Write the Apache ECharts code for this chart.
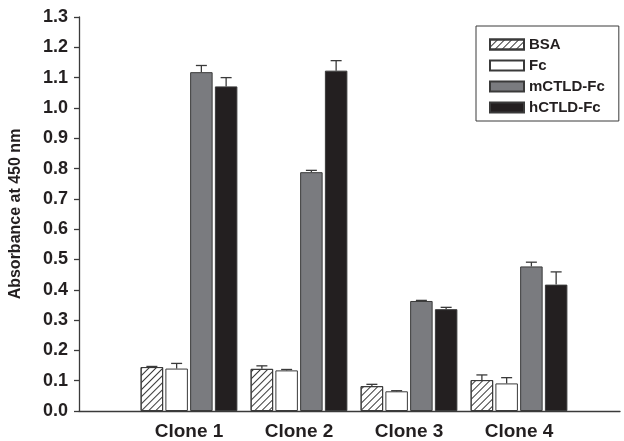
<!DOCTYPE html>
<html>
<head>
<meta charset="utf-8">
<script src="https://cdn.jsdelivr.net/npm/echarts@6/dist/echarts.min.js"></script>
<style>html,body{margin:0;padding:0;background:#fff}#c{width:624px;height:441px}</style>
</head>
<body>
<div id="c"></div>
<script>
const categories = ['Clone 1', 'Clone 2', 'Clone 3', 'Clone 4'];
const seriesNames = ['BSA', 'Fc', 'mCTLD-Fc', 'hCTLD-Fc'];
const bsa = [0.145, 0.139, 0.082, 0.102];
const fc = [0.140, 0.134, 0.065, 0.091];
const mctld = [1.118, 0.788, 0.363, 0.477];
const hctld = [1.071, 1.123, 0.336, 0.417];
const bsaErr = [0.002, 0.010, 0.006, 0.017];
const fcErr = [0.017, 0.003, 0.002, 0.019];
const mctldErr = [0.022, 0.006, 0.002, 0.014];
const hctldErr = [0.029, 0.033, 0.006, 0.042];
const yTicks = ['0.0','0.1','0.2','0.3','0.4','0.5','0.6','0.7','0.8','0.9','1.0','1.1','1.2','1.3'];

const values = [bsa, fc, mctld, hctld];
const errs = [bsaErr, fcErr, mctldErr, hctldErr];
const ink = '#231f20';
const font = 'Liberation Sans, Arial, Helvetica, sans-serif';
const BAR_W = 22.5, STEP = 24.75;

const styles = [
  { color: '#ffffff', borderColor: '#3a3a3a', borderWidth: 1,
    decal: { symbol: 'rect', symbolSize: 1, dashArrayX: [1, 0], dashArrayY: [1, 3.6],
             rotation: -Math.PI / 4, color: '#3a3a3a' } },
  { color: '#ffffff', borderColor: '#3a3a3a', borderWidth: 1 },
  { color: '#7a7b7f', borderColor: '#3a3a3a', borderWidth: 1 },
  { color: '#231f20', borderColor: '#3a3a3a', borderWidth: 1 }
];

const series = [];
seriesNames.forEach((name, i) => {
  series.push({
    name: name, type: 'bar', barWidth: BAR_W, barGap: '10%',
    data: values[i].map((v, k) => [k + 1, v]),
    itemStyle: styles[i], emphasis: { disabled: true }, z: 2
  });
});
seriesNames.forEach((name, i) => {
  series.push({
    type: 'custom', z: 3, silent: true,
    data: values[i].map((v, k) => [k + 1, v, v + errs[i][k]]),
    renderItem: function (params, api) {
      const base = api.coord([api.value(0), api.value(1)]);
      const top = api.coord([api.value(0), api.value(2)]);
      const x = base[0] + (i - 1.5) * STEP;
      return {
        type: 'group',
        children: [
          { type: 'line', shape: { x1: x, y1: base[1], x2: x, y2: top[1] },
            style: { stroke: '#3a3a3a', lineWidth: 1.3 } },
          { type: 'line', shape: { x1: x - 5.5, y1: top[1], x2: x + 5.5, y2: top[1] },
            style: { stroke: '#3a3a3a', lineWidth: 1.3 } }
        ]
      };
    }
  });
});

const chart = echarts.init(document.getElementById('c'), null, { renderer: 'canvas' });
chart.setOption({
  animation: false,
  backgroundColor: '#fff',
  grid: { left: 79, right: 4, top: 17, bottom: 29, containLabel: false },
  legend: {
    data: seriesNames, orient: 'vertical', left: 476, top: 26,
    icon: 'rect',
    itemWidth: 34, itemHeight: 10, itemGap: 6,
    padding: [11, 14, 6, 13],
    borderColor: '#3a3a3a', borderWidth: 1,
    textStyle: { fontFamily: font, fontWeight: 'bold', fontSize: 15, color: ink, lineHeight: 14 },
    selectedMode: false
  },
  xAxis: {
    type: 'value', min: 0, max: 4.918, interval: 1,
    axisLine: { show: true, lineStyle: { color: '#3a3a3a', width: 1.3 } },
    axisTick: { show: false },
    splitLine: { show: false },
    axisLabel: {
      showMaxLabel: false,
      formatter: v => (v >= 1 && v <= 4 && Number.isInteger(v)) ? categories[v - 1] : '',
      fontFamily: font, fontWeight: 'bold', fontSize: 19, color: ink, margin: 11
    }
  },
  yAxis: {
    type: 'value', min: 0, max: 1.3, interval: 0.1,
    name: 'Absorbance at 450 nm', nameLocation: 'middle', nameGap: 55,
    nameTextStyle: { fontFamily: font, fontWeight: 'bold', fontSize: 16, color: ink },
    axisLine: { show: true, lineStyle: { color: '#3a3a3a', width: 1.3 } },
    axisTick: { show: true, length: 5, lineStyle: { color: '#3a3a3a', width: 1.3 } },
    splitLine: { show: false },
    axisLabel: {
      formatter: v => yTicks[Math.round(v * 10)],
      fontFamily: font, fontWeight: 'bold', fontSize: 18, color: ink, margin: 11
    }
  },
  series: series
});
</script>
</body>
</html>
